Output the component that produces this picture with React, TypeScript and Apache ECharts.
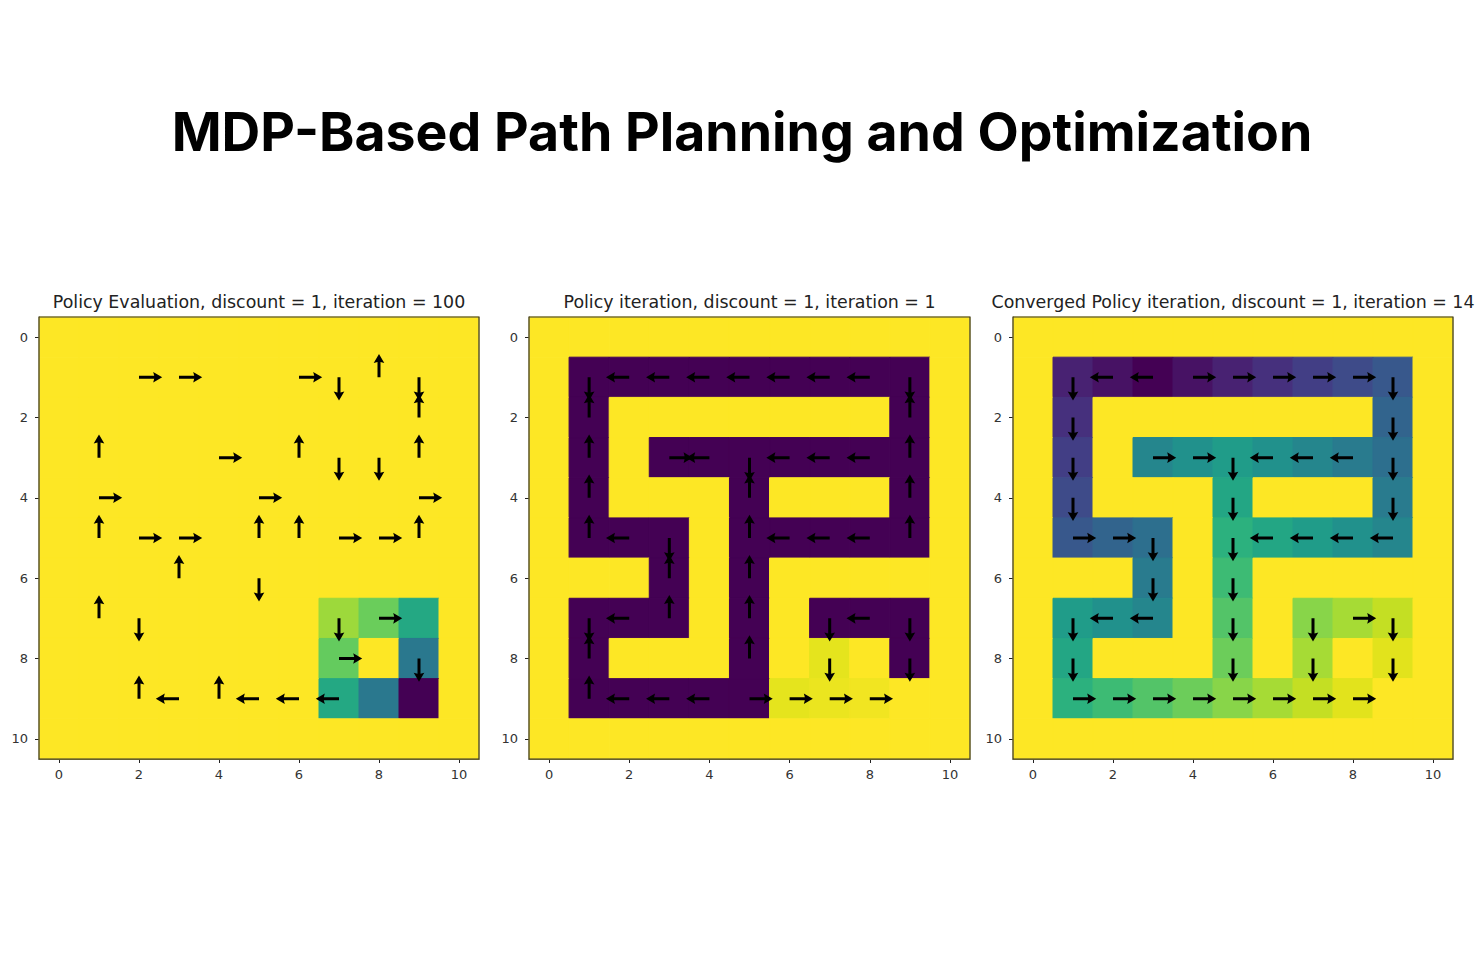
import React, { useEffect, useRef } from "react";
import * as echarts from "echarts";

const TITLE = "MDP-Based Path Planning and Optimization";
const PANEL_TITLES = [
  "Policy Evaluation, discount = 1, iteration = 100",
  "Policy iteration, discount = 1, iteration = 1",
  "Converged Policy iteration, discount = 1, iteration = 14",
];
const TICKS = ["0", "1", "2", "3", "4", "5", "6", "7", "8", "9", "10"];

const VIRIDIS = [
  "#440154", "#48186a", "#472d7b", "#424086", "#3b528b", "#33638d", "#2c728e", "#26828e",
  "#21918c", "#1fa088", "#28ae80", "#3fbc73", "#5ec962", "#84d44b", "#addc30", "#d8e219", "#fde725",
];

// value grids (rows top -> bottom)
const VALUES_EVAL = [
  [0, 0, 0, 0, 0, 0, 0, 0, 0, 0, 0],
  [0, 0, 0, 0, 0, 0, 0, 0, 0, 0, 0],
  [0, 0, 0, 0, 0, 0, 0, 0, 0, 0, 0],
  [0, 0, 0, 0, 0, 0, 0, 0, 0, 0, 0],
  [0, 0, 0, 0, 0, 0, 0, 0, 0, 0, 0],
  [0, 0, 0, 0, 0, 0, 0, 0, 0, 0, 0],
  [0, 0, 0, 0, 0, 0, 0, 0, 0, 0, 0],
  [0, 0, 0, 0, 0, 0, 0, -15, -23, -40, 0],
  [0, 0, 0, 0, 0, 0, 0, -24, 0, -60, 0],
  [0, 0, 0, 0, 0, 0, 0, -40, -60, -100, 0],
  [0, 0, 0, 0, 0, 0, 0, 0, 0, 0, 0],
];
const VALUES_ITER1 = [
  [0, 0, 0, 0, 0, 0, 0, 0, 0, 0, 0],
  [0, -100, -100, -100, -100, -100, -100, -100, -100, -100, 0],
  [0, -100, 0, 0, 0, 0, 0, 0, 0, -100, 0],
  [0, -100, 0, -100, -100, -100, -100, -100, -100, -100, 0],
  [0, -100, 0, 0, 0, -100, 0, 0, 0, -100, 0],
  [0, -100, -100, -100, 0, -100, -100, -100, -100, -100, 0],
  [0, 0, 0, -100, 0, -100, 0, 0, 0, 0, 0],
  [0, -100, -100, -100, 0, -100, 0, -100, -100, -100, 0],
  [0, -100, 0, 0, 0, -100, 0, -4, 0, -100, 0],
  [0, -100, -100, -100, -100, -100, -4, -3, -2, 0, 0],
  [0, 0, 0, 0, 0, 0, 0, 0, 0, 0, 0],
];
const VALUES_CONV = [
  [0, 0, 0, 0, 0, 0, 0, 0, 0, 0, 0],
  [0, -20, -21, -22, -21, -20, -19, -18, -17, -16, 0],
  [0, -19, 0, 0, 0, 0, 0, 0, 0, -15, 0],
  [0, -18, 0, -12, -11, -10, -11, -12, -13, -14, 0],
  [0, -17, 0, 0, 0, -9, 0, 0, 0, -13, 0],
  [0, -16, -15, -14, 0, -8, -9, -10, -11, -12, 0],
  [0, 0, 0, -13, 0, -7, 0, 0, 0, 0, 0],
  [0, -10, -11, -12, 0, -6, 0, -4, -3, -2, 0],
  [0, -9, 0, 0, 0, -5, 0, -3, 0, -1, 0],
  [0, -8, -7, -6, -5, -4, -3, -2, -1, 0, 0],
  [0, 0, 0, 0, 0, 0, 0, 0, 0, 0, 0],
];

// arrows: [row, col, direction]
const ARROWS_EVAL: [number, number, string][] = [
  [1, 2, "R"], [1, 3, "R"], [1, 6, "R"], [1, 7, "D"], [1, 8, "U"], [1, 9, "D"],
  [2, 9, "U"],
  [3, 1, "U"], [3, 4, "R"], [3, 6, "U"], [3, 7, "D"], [3, 8, "D"], [3, 9, "U"],
  [4, 1, "R"], [4, 5, "R"], [4, 9, "R"],
  [5, 1, "U"], [5, 2, "R"], [5, 3, "R"], [5, 5, "U"], [5, 6, "U"], [5, 7, "R"], [5, 8, "R"], [5, 9, "U"],
  [6, 3, "U"], [6, 5, "D"],
  [7, 1, "U"], [7, 2, "D"], [7, 7, "D"], [7, 8, "R"],
  [8, 7, "R"], [8, 9, "D"],
  [9, 2, "U"], [9, 3, "L"], [9, 4, "U"], [9, 5, "L"], [9, 6, "L"], [9, 7, "L"],
];
const ARROWS_ITER1: [number, number, string][] = [
  [1, 1, "D"], [1, 2, "L"], [1, 3, "L"], [1, 4, "L"], [1, 5, "L"], [1, 6, "L"], [1, 7, "L"], [1, 8, "L"], [1, 9, "D"],
  [2, 1, "U"], [2, 9, "U"],
  [3, 1, "U"], [3, 3, "R"], [3, 4, "L"], [3, 5, "D"], [3, 6, "L"], [3, 7, "L"], [3, 8, "L"], [3, 9, "U"],
  [4, 1, "U"], [4, 5, "U"], [4, 9, "U"],
  [5, 1, "U"], [5, 2, "L"], [5, 3, "D"], [5, 5, "U"], [5, 6, "L"], [5, 7, "L"], [5, 8, "L"], [5, 9, "U"],
  [6, 3, "U"], [6, 5, "U"],
  [7, 1, "D"], [7, 2, "L"], [7, 3, "U"], [7, 5, "U"], [7, 7, "D"], [7, 8, "L"], [7, 9, "D"],
  [8, 1, "U"], [8, 5, "U"], [8, 7, "D"], [8, 9, "D"],
  [9, 1, "U"], [9, 2, "L"], [9, 3, "L"], [9, 4, "L"], [9, 5, "R"], [9, 6, "R"], [9, 7, "R"], [9, 8, "R"],
];
const ARROWS_CONV: [number, number, string][] = [
  [1, 1, "D"], [1, 2, "L"], [1, 3, "L"], [1, 4, "R"], [1, 5, "R"], [1, 6, "R"], [1, 7, "R"], [1, 8, "R"], [1, 9, "D"],
  [2, 1, "D"], [2, 9, "D"],
  [3, 1, "D"], [3, 3, "R"], [3, 4, "R"], [3, 5, "D"], [3, 6, "L"], [3, 7, "L"], [3, 8, "L"], [3, 9, "D"],
  [4, 1, "D"], [4, 5, "D"], [4, 9, "D"],
  [5, 1, "R"], [5, 2, "R"], [5, 3, "D"], [5, 5, "D"], [5, 6, "L"], [5, 7, "L"], [5, 8, "L"], [5, 9, "L"],
  [6, 3, "D"], [6, 5, "D"],
  [7, 1, "D"], [7, 2, "L"], [7, 3, "L"], [7, 5, "D"], [7, 7, "D"], [7, 8, "R"], [7, 9, "D"],
  [8, 1, "D"], [8, 5, "D"], [8, 7, "D"], [8, 9, "D"],
  [9, 1, "R"], [9, 2, "R"], [9, 3, "R"], [9, 4, "R"], [9, 5, "R"], [9, 6, "R"], [9, 7, "R"], [9, 8, "R"],
];

const PANELS = [
  { values: VALUES_EVAL, arrows: ARROWS_EVAL },
  { values: VALUES_ITER1, arrows: ARROWS_ITER1 },
  { values: VALUES_CONV, arrows: ARROWS_CONV },
];

// layout
const GRID_LEFT = [39, 529, 1013];
const GRID_WIDTH = [440, 441, 440];
const GRID_TOP = 317;
const GRID_HEIGHT = 442;

const DIRS: Record<string, [number, number]> = { R: [1, 0], L: [-1, 0], D: [0, 1], U: [0, -1] };

function renderCell(params: any, api: any) {
  const c = api.coord([api.value(0), api.value(1)]);
  const size = api.size([1, 1]);
  const color = api.visual("color");
  return {
    type: "rect",
    shape: { x: c[0] - size[0] / 2, y: c[1] - size[1] / 2, width: size[0], height: size[1] },
    style: { fill: color, stroke: color, lineWidth: 1 },
  };
}

function renderArrow(params: any, api: any) {
  const c = api.coord([api.value(0), api.value(1)]);
  const size = api.size([1, 1]);
  const dx = api.value(2);
  const dy = api.value(3);
  const cell = Math.min(size[0], size[1]);
  const L = 0.58 * cell;
  const w = 1.5;
  const hh = 5.3;
  const hl = 9;
  const ha = 8;
  const p = (a: number, b: number) => [c[0] + dx * a - dy * b, c[1] + dy * a + dx * b];
  const points = [
    p(0, -w), p(L - ha, -w), p(L - hl, -hh), p(L, 0), p(L - hl, hh), p(L - ha, w), p(0, w),
  ];
  return { type: "polygon", shape: { points }, style: { fill: "#000" } };
}

export default function App() {
  const ref = useRef<HTMLDivElement>(null);
  useEffect(() => {
    document.body.style.margin = "0";
    const chart = echarts.init(ref.current!, null, { renderer: "svg" });
    const grids: any[] = [];
    const xAxes: any[] = [];
    const yAxes: any[] = [];
    const series: any[] = [];
    const visualMaps: any[] = [];
    const graphics: any[] = [];

    graphics.push({
      type: "text",
      x: 742,
      y: 131,
      style: {
        text: TITLE,
        font: "700 53.6px Inter, 'Open Sans', sans-serif",
        fill: "#000",
        textAlign: "center",
        textVerticalAlign: "middle",
      },
    });

    PANELS.forEach((panel, i) => {
      grids.push({ left: GRID_LEFT[i], top: GRID_TOP, width: GRID_WIDTH[i], height: GRID_HEIGHT, containLabel: false });
      const axisCommon = {
        type: "category",
        data: TICKS,
        gridIndex: i,
        axisLine: { show: true, lineStyle: { color: "#333", width: 1 } },
        axisTick: { show: true, alignWithLabel: true, interval: 1, length: 4, lineStyle: { color: "#222" } },
        axisLabel: { interval: 1, fontFamily: "DejaVu Sans", fontSize: 13, color: "#333" },
        splitLine: { show: false },
      };
      xAxes.push({ ...axisCommon, position: "bottom", axisLabel: { ...axisCommon.axisLabel, margin: 9 } });
      yAxes.push({ ...axisCommon, inverse: true, position: "left", axisLabel: { ...axisCommon.axisLabel, margin: 11 } });

      const cells: any[] = [];
      let mn = 0;
      let mx = 0;
      panel.values.forEach((row, r) =>
        row.forEach((v, c) => {
          cells.push([c, r, v]);
          mn = Math.min(mn, v);
          mx = Math.max(mx, v);
        })
      );
      const cellIndex = series.length;
      series.push({
        type: "custom",
        xAxisIndex: i,
        yAxisIndex: i,
        renderItem: renderCell,
        data: cells,
        encode: { x: 0, y: 1 },
        z: 2,
      });
      visualMaps.push({
        type: "continuous",
        show: false,
        seriesIndex: cellIndex,
        min: mn,
        max: mx,
        dimension: 2,
        inRange: { color: VIRIDIS },
      });
      series.push({
        type: "custom",
        xAxisIndex: i,
        yAxisIndex: i,
        renderItem: renderArrow,
        data: panel.arrows.map(([r, c, d]) => [c, r, DIRS[d][0], DIRS[d][1]]),
        encode: { x: 0, y: 1 },
        z: 5,
      });

      graphics.push({
        type: "rect",
        shape: { x: GRID_LEFT[i], y: GRID_TOP, width: GRID_WIDTH[i], height: GRID_HEIGHT },
        style: { fill: "none", stroke: "#333", lineWidth: 1.2 },
        z: 100,
      });
      graphics.push({
        type: "text",
        x: GRID_LEFT[i] + GRID_WIDTH[i] / 2,
        y: 302,
        style: {
          text: PANEL_TITLES[i],
          font: "17.4px 'DejaVu Sans'",
          fill: "#222",
          textAlign: "center",
          textVerticalAlign: "middle",
        },
      });
    });

    chart.setOption({
      animation: false,
      backgroundColor: "#fff",
      grid: grids,
      xAxis: xAxes,
      yAxis: yAxes,
      visualMap: visualMaps,
      series,
      graphic: graphics,
    });
    return () => chart.dispose();
  }, []);
  return <div ref={ref} style={{ width: 1484, height: 972 }} />;
}
